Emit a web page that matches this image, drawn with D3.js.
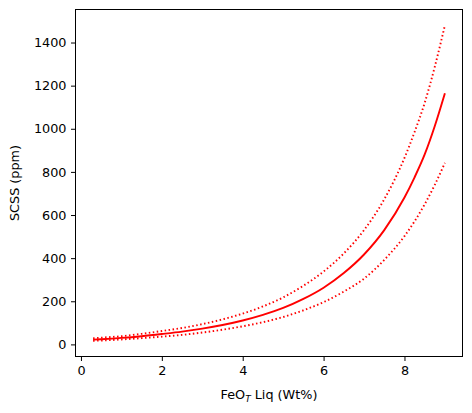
<!DOCTYPE html>
<html>
<head>
<meta charset="utf-8">
<script src="https://cdn.jsdelivr.net/npm/d3@7"></script>
<style>
  html, body { margin: 0; padding: 0; background: #fff; }
  svg { display: block; font-family: "DejaVu Sans", sans-serif; }
</style>
</head>
<body>
<svg id="chart" width="472" height="413"></svg>
<script>
const feo = [0.3, 0.5, 1, 1.5, 2, 2.5, 3, 3.5, 4, 4.5, 5, 5.5, 6, 6.5, 7, 7.5, 8, 8.25, 8.5, 8.75, 9];
const scssMid = [22, 24, 30, 38, 48, 59, 73, 90, 111, 137, 169, 211, 263, 331, 417, 530, 681, 775, 881, 1013, 1165];
const scssHigh = [28, 31, 38, 49, 62, 76, 94, 116, 143, 176, 218, 272, 338, 422, 530, 673, 865, 985, 1120, 1288, 1480];
const scssLow = [17, 18, 23, 29, 36, 44, 55, 68, 84, 103, 127, 158, 196, 245, 305, 392, 502, 571, 650, 740, 842];

const xTicks = [0, 2, 4, 6, 8];
const yTicks = [0, 200, 400, 600, 800, 1000, 1200, 1400];

const svg = d3.select('#chart');
const plot = { left: 75.5, right: 462.5, top: 9.5, bottom: 356.5 };

// matplotlib style 5% margins
const xMin = d3.min(feo), xMax = d3.max(feo);
const xPad = (xMax - xMin) * 0.05;
const allY = scssMid.concat(scssHigh, scssLow);
const yMin = d3.min(allY), yMax = d3.max(allY);
const yPad = (yMax - yMin) * 0.05;

const x = d3.scaleLinear().domain([xMin - xPad, xMax + xPad]).range([plot.left, plot.right]);
const y = d3.scaleLinear().domain([yMin - yPad, yMax + yPad]).range([plot.bottom, plot.top]);

const line = series => d3.line()
  .x((d, i) => x(feo[i]))
  .y(d => y(d))
  .curve(d3.curveMonotoneX)(series);

const curves = [
  { values: scssHigh, dash: '1.5,2.5' },
  { values: scssMid, dash: null },
  { values: scssLow, dash: '1.5,2.5' }
];

svg.append('g')
  .selectAll('path')
  .data(curves)
  .enter()
  .append('path')
  .attr('d', d => line(d.values))
  .attr('fill', 'none')
  .attr('stroke', '#ff0000')
  .attr('stroke-width', 1.9)
  .attr('stroke-dasharray', d => d.dash);

// axes
const xAxis = d3.axisBottom(x).tickValues(xTicks).tickSize(4.5).tickPadding(4.5).tickFormat(d3.format('d'));
const yAxis = d3.axisLeft(y).tickValues(yTicks).tickSize(4.5).tickPadding(4.5).tickFormat(d3.format('d'));

const gx = svg.append('g').attr('transform', `translate(0,${plot.bottom})`).call(xAxis);
const gy = svg.append('g').attr('transform', `translate(${plot.left},0)`).call(yAxis);

[gx, gy].forEach(g => {
  g.select('.domain').remove();
  g.selectAll('line').attr('stroke', '#000').attr('stroke-width', 1);
  g.selectAll('text').attr('fill', '#000').style('font-size', '12.8px').style('font-family', '"DejaVu Sans", sans-serif');
});

svg.append('rect')
  .attr('x', plot.left)
  .attr('y', plot.top)
  .attr('width', plot.right - plot.left)
  .attr('height', plot.bottom - plot.top)
  .attr('fill', 'none')
  .attr('stroke', '#000')
  .attr('stroke-width', 1);

// axis labels
const xLabel = svg.append('text')
  .attr('x', (plot.left + plot.right) / 2)
  .attr('y', 399)
  .attr('text-anchor', 'middle')
  .style('font-size', '12.8px');
xLabel.append('tspan').text('FeO');
xLabel.append('tspan').attr('dy', 2.5).style('font-size', '9px').style('font-style', 'italic').text('T');
xLabel.append('tspan').attr('dy', -2.5).text(' Liq (Wt%)');

svg.append('text')
  .attr('transform', `translate(19,${(plot.top + plot.bottom) / 2}) rotate(-90)`)
  .attr('text-anchor', 'middle')
  .style('font-size', '12.8px')
  .text('SCSS (ppm)');
</script>
</body>
</html>
